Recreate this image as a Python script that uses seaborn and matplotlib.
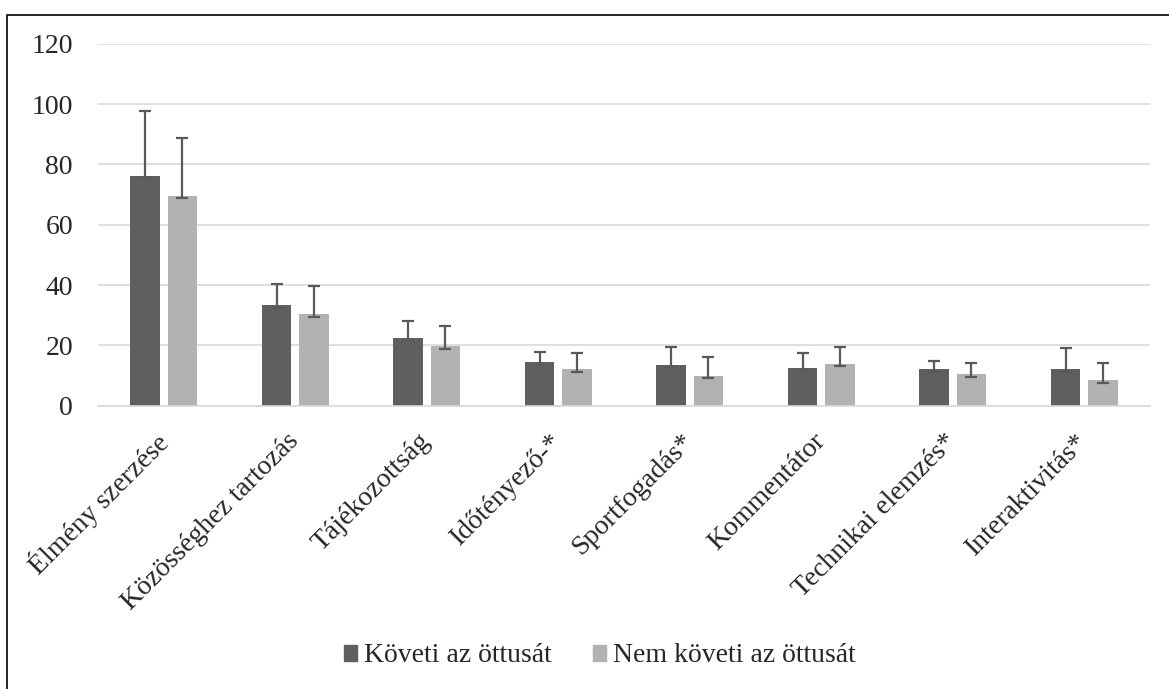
import numpy as np
import pandas as pd
import matplotlib
matplotlib.use("Agg")
import matplotlib.pyplot as plt
import seaborn as sns
from matplotlib.patches import Rectangle

# Data
categories = ['Élmény szerzése', 'Közösséghez tartozás', 'Tájékozottság', 'Időtényező-*',
              'Sportfogadás*', 'Kommentátor', 'Technikai elemzés*', 'Interaktivitás*']
groups = ['Követi az öttusát', 'Nem követi az öttusát']

follows_mean = [76.2, 33.3, 22.5, 14.4, 13.6, 12.5, 12.2, 12.1]
follows_low = [75.5, 32.5, 21.8, 13.6, 12.8, 11.7, 11.3, 11.1]
follows_high = [97.7, 40.4, 28.0, 17.7, 19.6, 17.6, 14.9, 19.1]

notfollow_mean = [69.7, 30.3, 19.8, 12.2, 10.0, 13.9, 10.4, 8.6]
notfollow_low = [68.8, 29.4, 18.9, 11.3, 9.1, 13.1, 9.6, 7.6]
notfollow_high = [88.9, 39.7, 26.4, 17.4, 16.3, 19.5, 14.2, 14.1]

colors = ['#5f5f5f', '#b2b2b2']

df = pd.DataFrame({
    'category': categories * 2,
    'group': [groups[0]] * len(categories) + [groups[1]] * len(categories),
    'value': follows_mean + notfollow_mean,
})

sns.set_style('white')
plt.rcParams['font.family'] = ['Liberation Serif', 'DejaVu Serif']

fig = plt.figure(figsize=(11.69, 6.89), dpi=100)
ax = fig.add_axes([0.0838, 0.4112, 0.9, 0.5251])

sns.barplot(data=df, x='category', y='value', hue='group', order=categories,
            hue_order=groups, palette=colors, width=0.567, gap=0.21,
            errorbar=None, saturation=1, linewidth=0, ax=ax)

# custom error bars drawn at the bar centres
lows = [follows_low, notfollow_low]
highs = [follows_high, notfollow_high]
means = [follows_mean, notfollow_mean]
for cont, m, lo, hi in zip(ax.containers, means, lows, highs):
    xs = [p.get_x() + p.get_width() / 2 for p in cont.patches]
    m = np.array(m)
    yerr = [m - np.array(lo), np.array(hi) - m]
    ax.errorbar(xs, m, yerr=yerr, fmt='none', ecolor='#595959',
                elinewidth=1.6, capsize=4.3, capthick=1.6, zorder=3)

ax.set_ylim(0, 120)
ax.set_xlim(-0.5, 7.5)
ax.set_yticks(range(0, 121, 20))
ax.yaxis.grid(True, color='#d9d9d9', linewidth=1.2)
ax.set_axisbelow(True)
for s in ['top', 'right', 'left']:
    ax.spines[s].set_visible(False)
ax.spines['bottom'].set_color('#d9d9d9')
ax.spines['bottom'].set_linewidth(1.2)
ax.set_xlabel('')
ax.set_ylabel('')
ax.tick_params(axis='y', length=0, pad=18, labelsize=20)
ax.tick_params(axis='x', length=0, pad=23, labelsize=20)
plt.setp(ax.get_xticklabels(), rotation=45, ha='right', va='center', rotation_mode='anchor')

ax.legend_.remove()
handles = [Rectangle((0, 0), 1, 1, color=c) for c in colors]
fig.legend(handles, groups, loc='center', bbox_to_anchor=(600 / 1169, 1 - 656 / 689),
           ncol=2, frameon=False, fontsize=20, handlelength=0.47, handleheight=0.5,
           handletextpad=0.25, columnspacing=1.5)

# outer chart border (only left and top edges are inside the picture)
fig.patches.append(Rectangle((7 / 1169, -0.1), 1.2, 1 - 15 / 689 + 0.1,
                             transform=fig.transFigure, fill=False,
                             edgecolor='black', linewidth=1.2))

fig.savefig('out.png', dpi=100)
